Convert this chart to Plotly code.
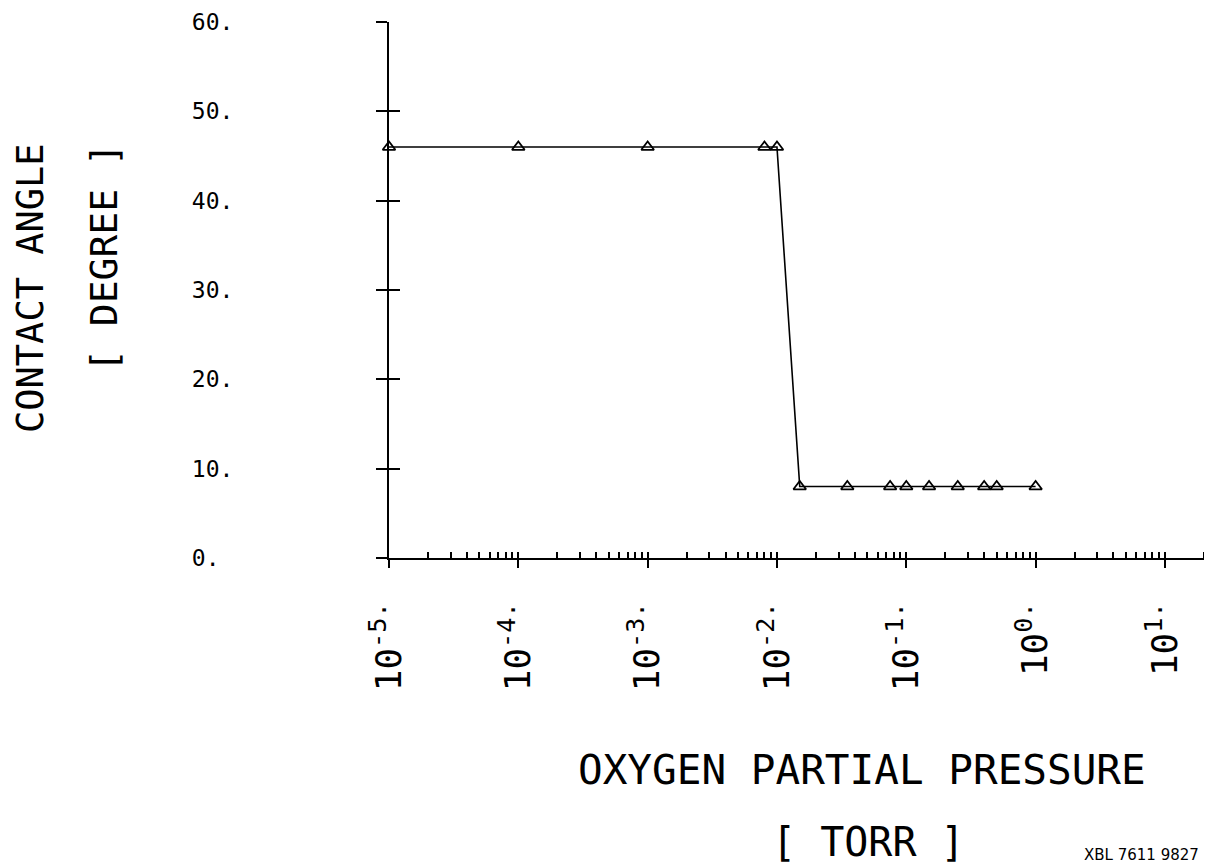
import plotly.graph_objects as go

# Data
pressure = [1e-5, 1e-4, 1e-3, 0.008, 0.01,
            0.015, 0.035, 0.075, 0.1, 0.15, 0.25, 0.4, 0.5, 1.0]
angle = [46, 46, 46, 46, 46,
         8, 8, 8, 8, 8, 8, 8, 8, 8]

x_tickvals = [1e-5, 1e-4, 1e-3, 1e-2, 1e-1, 1e0, 1e1]
x_ticktext = ["10<sup>-5.</sup>", "10<sup>-4.</sup>", "10<sup>-3.</sup>",
              "10<sup>-2.</sup>", "10<sup>-1.</sup>", "10<sup>0.</sup>",
              "10<sup>1.</sup>"]
y_tickvals = [0, 10, 20, 30, 40, 50, 60]
y_ticktext = ["0.\u00a0", "10.", "20.", "30.", "40.", "50.", "60."]

x_title = "OXYGEN PARTIAL PRESSURE"
x_unit = "[ TORR ]"
y_title = "CONTACT ANGLE"
y_unit = "[ DEGREE ]"
ref_code = "XBL 7611 9827"

minor_vals = [m * 10.0 ** e for e in range(-5, 2) for m in range(2, 10)]

FONT = "DejaVu Sans Mono"

# plot area in page pixels (page has an 8px body offset)
PX0, PX1, PY0, PY1 = 389, 1208, 22, 558
OFF = 8


def px(xp):
    return (xp - PX0) / (PX1 - PX0)


def py(yp):
    return (PY1 - yp) / (PY1 - PY0)


fig = go.Figure()
fig.add_trace(go.Scatter(
    x=pressure, y=angle, mode="lines+markers",
    line=dict(color="black", width=1.6),
    marker=dict(symbol="triangle-up-open", size=11, color="black",
                line=dict(width=1.8, color="black")),
    cliponaxis=False, showlegend=False,
))
# invisible trace so the overlay axes draw their inner tick halves
fig.add_trace(go.Scatter(x=[1e-5], y=[0], xaxis="x2", yaxis="y2",
                         mode="markers", marker=dict(opacity=0),
                         showlegend=False, hoverinfo="skip"))

xr = [-5, 1.333]
yr = [0, 60]

fig.update_layout(
    width=1212, height=866,
    margin=dict(l=PX0 - OFF, r=1212 - (PX1 - OFF), t=PY0 - OFF,
                b=866 - (PY1 - OFF)),
    paper_bgcolor="white", plot_bgcolor="white",
    font=dict(family=FONT, color="black"),
    xaxis=dict(type="log", range=xr, showgrid=False, zeroline=False,
               showline=True, linecolor="black", linewidth=2,
               tickmode="array", tickvals=x_tickvals, ticktext=x_ticktext,
               ticks="outside", ticklen=8, tickwidth=2, tickcolor="black",
               tickangle=-90, tickfont=dict(family=FONT, size=36),
               ticklabelstandoff=20, automargin=False,
               minor=dict(tickvals=minor_vals, ticks="inside", ticklen=6,
                          tickwidth=1.5, tickcolor="black", showgrid=False)),
    yaxis=dict(range=yr, showgrid=False, zeroline=False,
               showline=True, linecolor="black", linewidth=2,
               tickmode="array", tickvals=y_tickvals, ticktext=y_ticktext,
               ticks="outside", ticklen=11, tickwidth=2, tickcolor="black",
               tickfont=dict(family=FONT, size=23),
               ticklabelstandoff=138, automargin=False),
    xaxis2=dict(type="log", range=xr, overlaying="x", anchor="y2",
                showgrid=False, zeroline=False, showline=False,
                tickmode="array", tickvals=x_tickvals, showticklabels=False,
                ticks="inside", ticklen=6, tickwidth=2, tickcolor="black"),
    yaxis2=dict(range=yr, overlaying="y", anchor="x2", side="left",
                showgrid=False, zeroline=False, showline=False,
                tickmode="array", tickvals=y_tickvals, showticklabels=False,
                ticks="inside", ticklen=11, tickwidth=2, tickcolor="black"),
)

fig.add_annotation(text=x_title, xref="paper", yref="paper",
                   x=px(862), y=py(770),
                   showarrow=False, font=dict(family=FONT, size=41),
                   xanchor="center", yanchor="middle")
fig.add_annotation(text=x_unit, xref="paper", yref="paper",
                   x=px(868), y=py(842),
                   showarrow=False, font=dict(family=FONT, size=40),
                   xanchor="center", yanchor="middle")
fig.add_annotation(text=y_title, xref="paper", yref="paper",
                   x=px(30), y=py(288),
                   showarrow=False, textangle=-90,
                   font=dict(family=FONT, size=37),
                   xanchor="center", yanchor="middle")
fig.add_annotation(text=y_unit, xref="paper", yref="paper",
                   x=px(104), y=py(258),
                   showarrow=False, textangle=-90,
                   font=dict(family=FONT, size=38),
                   xanchor="center", yanchor="middle")
fig.add_annotation(text=ref_code, xref="paper", yref="paper",
                   x=px(1082), y=py(855),
                   showarrow=False, font=dict(family="DejaVu Sans", size=15),
                   xanchor="left", yanchor="middle")

fig.write_html("out.html")
